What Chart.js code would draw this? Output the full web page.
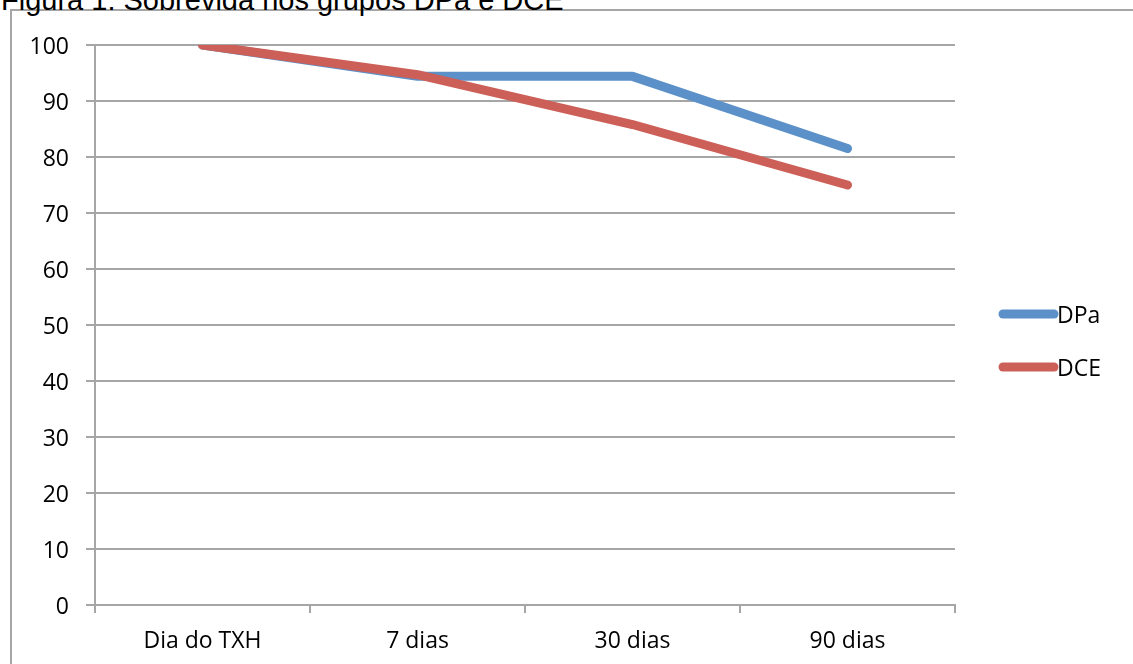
<!DOCTYPE html>
<html>
<head>
<meta charset="utf-8">
<script src="https://cdn.jsdelivr.net/npm/chart.js@4"></script>
<style>
  html, body { margin: 0; padding: 0; background: #fff; overflow: hidden; }
  #wrap { position: relative; width: 1133px; height: 664px; }
  #frame { position: absolute; left: 10px; top: 9px; width: 1140px; height: 700px;
           border: 2px solid #a6a6a6; box-sizing: border-box; }
  #title { position: absolute; left: 1px; top: -16px; font-family: "Liberation Sans", Arial, sans-serif;
           font-size: 29px; line-height: 32px; color: #000; white-space: nowrap; }
  canvas { position: absolute; left: 0; top: 0; }
</style>
</head>
<body>
<div id="wrap">
  <div id="frame"></div>
  <div id="title">Figura 1: Sobrevida nos grupos DPa e DCE</div>
  <canvas id="c" width="1133" height="664"></canvas>
</div>
<script>
// Survival (%) per follow-up point
const categories = ["Dia do TXH", "7 dias", "30 dias", "90 dias"];
const dpaValues = [100, 94.4, 94.4, 81.5];
const dceValues = [100, 94.7, 85.8, 75];
const yTicks = [0, 10, 20, 30, 40, 50, 60, 70, 80, 90, 100];
const seriesNames = ["DPa", "DCE"];
const seriesColors = ["#5b90c8", "#cc6058"];

const labelFont = { family: "'Open Sans', sans-serif", size: 23 };
const gridColor = "#a6a6a6";

// Legend on the right: short thick line plus series name
const sideLegend = {
  id: "sideLegend",
  afterDraw(chart) {
    const ctx = chart.ctx;
    const x0 = 1003, x1 = 1054;
    const ys = [314, 367];
    ctx.save();
    chart.data.datasets.forEach((ds, i) => {
      ctx.strokeStyle = ds.borderColor;
      ctx.lineWidth = 9;
      ctx.lineCap = "round";
      ctx.beginPath();
      ctx.moveTo(x0, ys[i]);
      ctx.lineTo(x1, ys[i]);
      ctx.stroke();
      ctx.fillStyle = "#000";
      ctx.font = `${labelFont.size}px ${labelFont.family}`;
      ctx.textBaseline = "middle";
      ctx.textAlign = "left";
      ctx.fillText(ds.label, 1057, ys[i] + 2);
    });
    ctx.restore();
  }
};

new Chart(document.getElementById("c"), {
  type: "line",
  data: {
    labels: categories,
    datasets: [
      // DCE is painted over DPa (lower order = drawn last)
      { label: seriesNames[0], data: dpaValues, borderColor: seriesColors[0], order: 1 },
      { label: seriesNames[1], data: dceValues, borderColor: seriesColors[1], order: 0 }
    ].map(d => Object.assign(d, {
      borderWidth: 9, pointRadius: 0, tension: 0, fill: false,
      borderCapStyle: "round", borderJoinStyle: "round"
    }))
  },
  options: {
    responsive: false,
    animation: false,
    layout: { padding: { left: 0, top: 45, right: 178, bottom: 0 } },
    plugins: { legend: { display: false }, title: { display: false }, tooltip: { enabled: false } },
    scales: {
      x: {
        type: "category",
        offset: true,
        afterFit(scale) { scale.height = 59; },
        grid: { offset: true, drawOnChartArea: false, drawTicks: true, tickLength: 8, color: gridColor, lineWidth: 2 },
        border: { color: gridColor, width: 2 },
        ticks: { color: "#000", font: labelFont, padding: 15, maxRotation: 0 }
      },
      y: {
        min: 0, max: 100,
        afterFit(scale) { scale.width = 95; },
        afterBuildTicks(scale) { scale.ticks = yTicks.map(v => ({ value: v })); },
        grid: { color: gridColor, lineWidth: 2, tickLength: 9 },
        border: { color: gridColor, width: 2 },
        ticks: { color: "#000", font: labelFont, padding: 17, labelOffset: 2 }
      }
    }
  },
  plugins: [sideLegend]
});
</script>
</body>
</html>
